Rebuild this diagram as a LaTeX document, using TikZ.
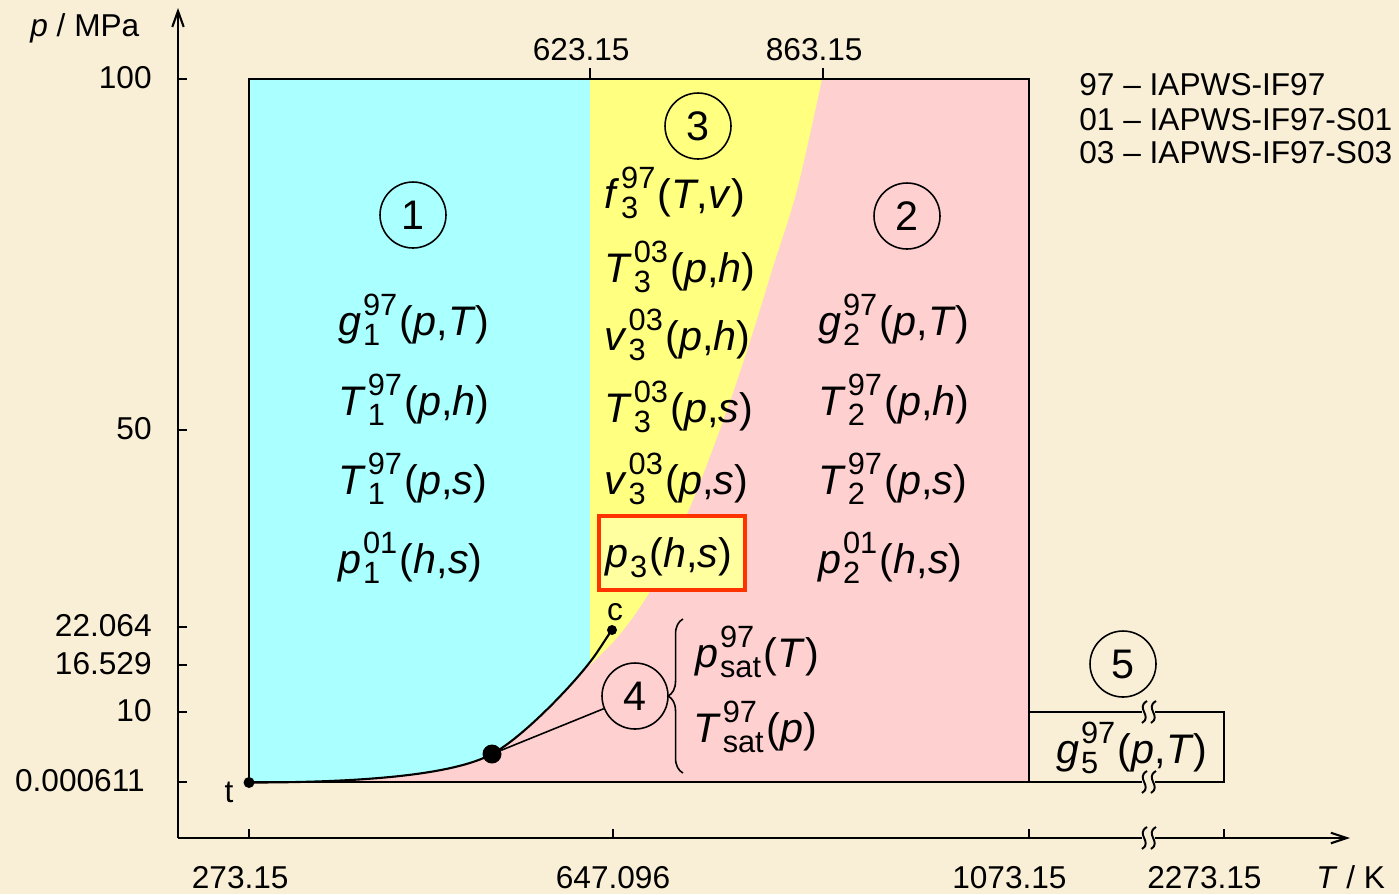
\documentclass[tikz,border=0pt]{standalone}
\usepackage{fontspec}
\setmainfont{Liberation Sans}
\usetikzlibrary{arrows.meta,decorations.pathreplacing}
\definecolor{bgc}{RGB}{249,239,214}
\definecolor{cy}{RGB}{170,255,255}
\definecolor{ye}{RGB}{255,255,128}
\definecolor{pk}{RGB}{255,208,208}
\definecolor{rb}{RGB}{255,51,0}
\definecolor{ly}{RGB}{255,255,160}
\newcommand\fmsz{\fontsize{23.5}{28}\selectfont}
\newcommand\scsz{\fontsize{17.5}{21}\selectfont}
\newcommand\axsz{\fontsize{18}{22}\selectfont}
\newcommand\SupSub[2]{{\scsz\setbox0=\hbox{#1}\setbox2=\hbox{#2}%
\ifdim\wd0>\wd2 \dimen0=\wd0 \else\dimen0=\wd2 \fi
\hbox to\dimen0{\rlap{\raise11pt\box0}\lower6pt\box2\hfil}}}
\newcommand\Fm[4]{\textit{#1}\kern1pt\SupSub{#2}{#3}\kern1.5pt(#4)}
\newcommand\brk[1]{%
 \fill[bgc] (1142,#1-5) rectangle (1155,#1+5);
 \draw[line width=1.1pt] (1147,#1-11) .. controls (1135,#1-4) and (1153,#1+4) .. (1142,#1+11);
 \draw[line width=1.1pt] (1156,#1-11) .. controls (1144,#1-4) and (1162,#1+4) .. (1151,#1+11);
}
\begin{document}
\begin{tikzpicture}[x=0.02cm,y=-0.02cm,
  ln/.style={line width=1.2pt},
  thin1/.style={line width=0.9pt},
  fm/.style={font=\fmsz, inner sep=0pt, anchor=base west},
  ax/.style={font=\axsz, inner sep=0pt},
  circ/.style={draw, circle, line width=0.9pt, minimum size=1.32cm, inner sep=0pt, font=\fmsz},
  dot/.style={fill, circle, inner sep=0pt}]
\useasboundingbox (0,0) rectangle (1399,894);
\fill[bgc] (0,0) rectangle (1399,894);
% regions
\fill[pk] (249,79) rectangle (1029,782);
\fill[cy] (249,79) -- (590,79) -- (590,662) .. controls (570,688) and (522,737.8) .. (492,754) .. controls (455,774) and (370,782.5) .. (249,782.5) -- cycle;
\fill[ye] (590,79) -- (822,79) -- plot[smooth] coordinates {(822,79) (797,190) (772,270) (752,335) (727,410) (695,495) (662,570) (638,610) (615,640) (590,665)} -- cycle;
% frames
\draw[ln] (249,79) rectangle (1029,782);
\draw[ln] (1029,712) -- (1224,712) -- (1224,782) -- (1029,782);
% axes
\draw[ln, -{Straight Barb[length=9pt,width=6.5pt]}] (178,838) -- (178,8);
\draw[ln, -{Straight Barb[length=9pt,width=6pt]}] (178,838) -- (1350,838);
\foreach \yy in {79,430,627,665,712,782} \draw[ln] (178,\yy) -- (187,\yy);
\foreach \xx in {249,613,1029,1224} \draw[ln] (\xx,838) -- (\xx,829);
\foreach \xx in {590,823} \draw[ln] (\xx,79) -- (\xx,68);
\brk{712}
\brk{782}
\brk{838}
% axis labels
\node[ax, anchor=base west] (pl) at (30,36) {\textit{p} / MPa};
\node[ax, anchor=east] (l100) at (152,78) {100};
\node[ax, anchor=east] (l50) at (152,429) {50};
\node[ax, anchor=east] (l22) at (152,626) {22.064};
\node[ax, anchor=east] (l16) at (152,664) {16.529};
\node[ax, anchor=east] (l10) at (152,711) {10};
\node[ax, anchor=east] (l0) at (145,781) {0.000611};
\node[ax, anchor=base] (x1) at (249,888) {\llap{273}.\rlap{15}};
\node[ax, anchor=base] (x2) at (613,888) {\llap{647}.\rlap{096}};
\node[ax, anchor=base] (x3) at (1027,888) {\llap{1073}.\rlap{15}};
\node[ax, anchor=base] (x4) at (1222,888) {\llap{2273}.\rlap{15}};
\node[ax, anchor=base west] (tl) at (1316,888) {\textit{T} / K};
\node[ax, anchor=base] (x5) at (590,60) {\llap{623}.\rlap{15}};
\node[ax, anchor=base] (x6) at (823,60) {\llap{863}.\rlap{15}};
% legend
\node[ax, anchor=base west] (lg1) at (1079,95) {97 – IAPWS-IF97};
\node[ax, anchor=base west] (lg2) at (1079,130) {01 – IAPWS-IF97-S01};
\node[ax, anchor=base west] (lg3) at (1079,163) {03 – IAPWS-IF97-S03};
% saturation line
\node[dot, minimum size=0.22cm] (t) at (249,782.5) {};
\node[dot, minimum size=0.2cm] (c) at (612,630) {};
\node[dot, minimum size=0.38cm] (bd) at (492,754) {};
\draw[ln] (t.center) .. controls (370,782.5) and (455,774) .. (bd.center) .. controls (522,737.8) and (570,688) .. (590,662) .. controls (598,652) and (606,638) .. (c.center);
\node[ax, anchor=base] (tt) at (229,802) {t};
\node[ax, anchor=base] (cc) at (615,620) {c};
% circled numbers
\node[circ] (n1) at (413,215) {1};
\node[circ] (n2) at (907,216) {2};
\node[circ] (n3) at (698,126) {3};
\node[circ] (n4) at (635,696) {4};
\node[circ] (n5) at (1123,664) {5};
\draw[thin1] (bd) -- (n4);
% region 1
\node[fm] (a1) at (338,335) {\Fm{g}{97}{1}{\textit{p},\textit{T}}};
\node[fm] (a2) at (338,415) {\Fm{T}{97}{1}{\textit{p},\textit{h}}};
\node[fm] (a3) at (338,494) {\Fm{T}{97}{1}{\textit{p},\textit{s}}};
\node[fm] (a4) at (338,573) {\Fm{p}{01}{1}{\textit{h},\textit{s}}};
% region 2
\node[fm] (b1) at (818,335) {\Fm{g}{97}{2}{\textit{p},\textit{T}}};
\node[fm] (b2) at (818,415) {\Fm{T}{97}{2}{\textit{p},\textit{h}}};
\node[fm] (b3) at (818,494) {\Fm{T}{97}{2}{\textit{p},\textit{s}}};
\node[fm] (b4) at (818,573) {\Fm{p}{01}{2}{\textit{h},\textit{s}}};
% region 3
\node[fm] (c1) at (604,208) {\Fm{f}{97}{3}{\textit{T},\textit{v}}};
\node[fm] (c2) at (604,282) {\Fm{T}{03}{3}{\textit{p},\textit{h}}};
\node[fm] (c3) at (604,350) {\Fm{v}{03}{3}{\textit{p},\textit{h}}};
\node[fm] (c4) at (604,422) {\Fm{T}{03}{3}{\textit{p},\textit{s}}};
\node[fm] (c5) at (604,494) {\Fm{v}{03}{3}{\textit{p},\textit{s}}};
\draw[rb, line width=2.3pt, fill=ly] (599,516) rectangle (745,590);
\node[fm] (c6) at (605,567) {\Fm{p}{}{3}{\textit{h},\textit{s}}};
% region 4
\coordinate (brb) at (683,773);
\coordinate (brt) at (683,619);
\draw[thin1, decorate, decoration={brace, amplitude=8.5pt}] (brb) -- (brt);
\node[fm] (d1) at (695,667) {\Fm{p}{97}{sat}{\textit{T}}};
\node[fm] (d2) at (693,742) {\Fm{T}{97}{sat}{\textit{p}}};
% region 5
\node[fm] (e1) at (1056,763) {\Fm{g}{97}{5}{\textit{p},\textit{T}}};
\end{tikzpicture}
\end{document}
